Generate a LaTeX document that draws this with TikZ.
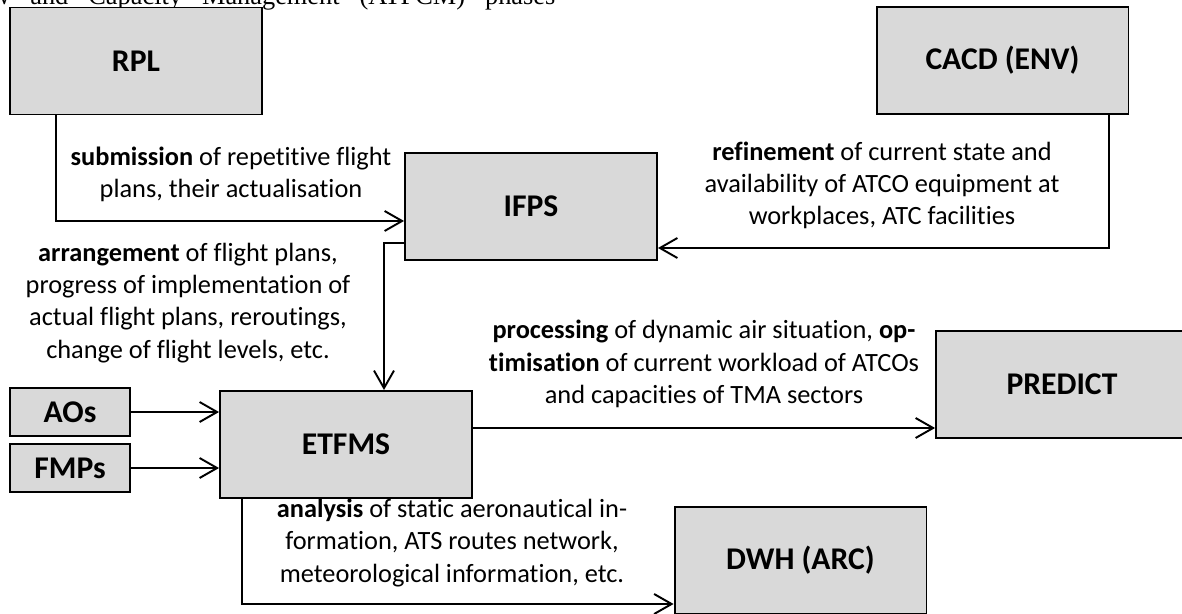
\documentclass[tikz,border=0pt]{standalone}
\usepackage{fontspec}
\setmainfont{Carlito}[Ligatures=NoCommon]
\newfontfamily\capfont{Liberation Serif}
\usetikzlibrary{calc,arrows.meta}

\begin{document}
\begin{tikzpicture}[%
x=0.02cm, y=-0.02cm,
sysbox/.style={draw=black, fill={rgb,255:red,217;green,217;blue,217}, line width=1.1pt, minimum width=5.04cm, minimum height=2.14cm, inner sep=0pt, font=\fontsize{18}{21}\selectfont\bfseries},
srcbox/.style={sysbox, minimum width=2.4cm, minimum height=0.96cm},
flow/.style={line width=1.1pt, -{Straight Barb[length=3.5mm,width=4mm]}},
note/.style={align=center, inner sep=0pt, font=\fontsize{15}{18.3}\selectfont},
]
\useasboundingbox (0,0) rectangle (1182,614);
\clip (0,0) rectangle (1182,614);
%% caption;
\node[anchor=base west, inner sep=0pt, font=\capfont\fontsize{15}{18}\selectfont] (caption) at (-9,5) {\spaceskip=0.4cm w and Capacity Management (ATFCM) phases};
%% box;
\node[sysbox] (rpl) at (136,61) {RPL};
\node[sysbox] (cacd) at (1002.5,60.5) {CACD (ENV)};
\node[sysbox] (ifps) at (531,206.5) {IFPS};
\node[sysbox] (etfms) at (346,444.5) {ETFMS};
\node[sysbox] (predict) at (1062,384.5) {PREDICT};
\node[sysbox] (dwh) at (800.5,560.5) {DWH (ARC)};
\node[srcbox] (aos) at (70,412) {AOs};
\node[srcbox] (fmps) at (70,468) {FMPs};
%% arrow;
\draw[flow] ($(rpl.south west)+(47,0)$) |- ($(ifps.west)+(0,14.5)$);
\draw[flow] ($(ifps.west)+(0,36.5)$) -| ($(etfms.north)+(38,0)$);
\draw[flow] ($(cacd.south east)+(-20,0)$) |- ($(ifps.east)+(0,41.5)$);
\draw[flow] (aos.east) -- (aos.east -| etfms.west);
\draw[flow] (fmps.east) -- (fmps.east -| etfms.west);
\coordinate (procstart) at ($(etfms.east)+(0,-16.5)$);
\draw[flow] (procstart) -- (procstart -| predict.west);
\draw[flow] ($(etfms.south west)+(23,0)$) |- ($(dwh.west)+(0,43.5)$);
%% label;
\node[note] (lblsub) at (231,174) {\textbf{submission} of repetitive flight\\plans, their actualisation};
\node[note] (lblref) at (882,185.5) {\textbf{refinement} of current state and\\availability of ATCO equipment at\\workplaces, ATC facilities};
\node[note] (lblarr) at (188,303) {\textbf{arrangement} of flight plans,\\progress of implementation of\\actual flight plans, reroutings,\\change of flight levels, etc.};
\node[note] (lblproc) at (704,364) {\textbf{processing} of dynamic air situation, \textbf{op-}\\\textbf{timisation} of current workload of ATCOs\\and capacities of TMA sectors};
\node[note] (lblana) at (452,543) {\textbf{analysis} of static aeronautical in-\\formation, ATS routes network,\\meteorological information, etc.};
\end{tikzpicture}
\end{document}
